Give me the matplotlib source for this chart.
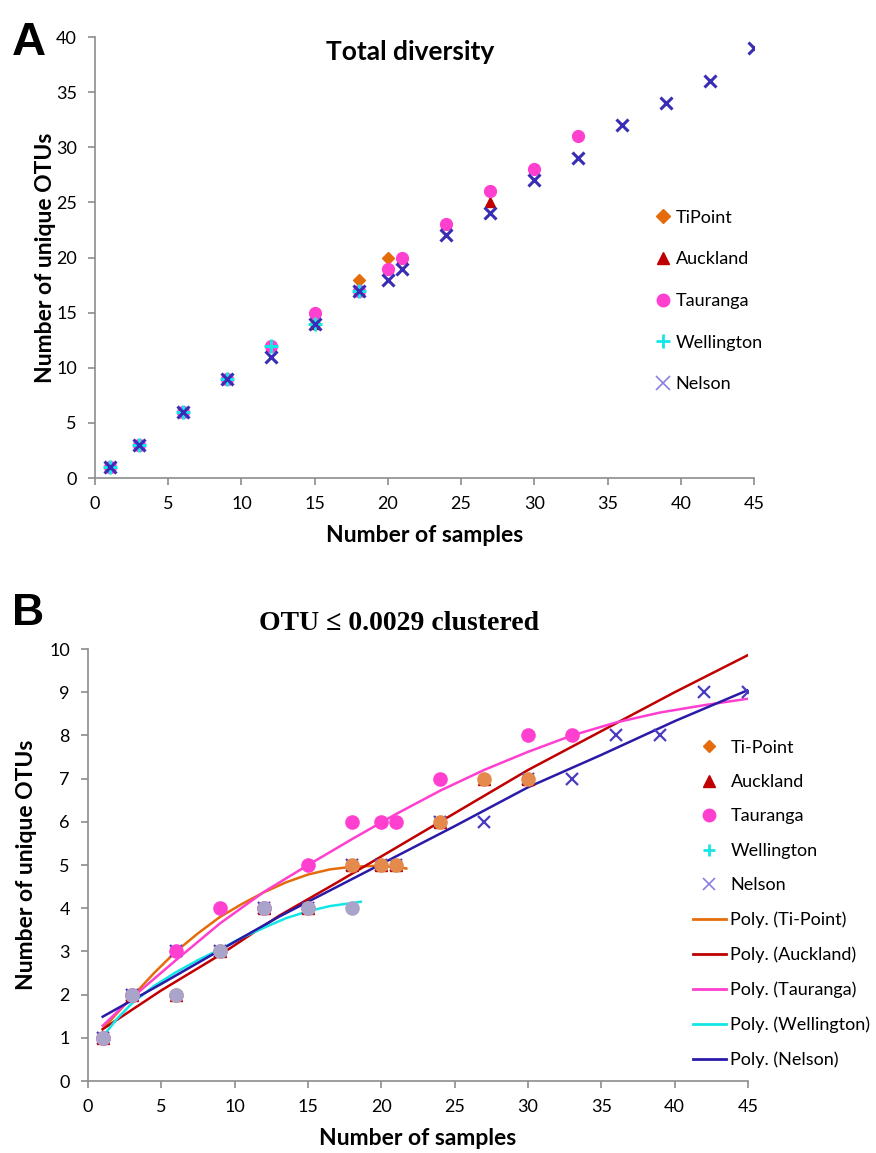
import matplotlib

matplotlib.use("Agg")
import matplotlib.pyplot as plt
from matplotlib.lines import Line2D

plt.rcParams["font.family"] = ["Lato", "DejaVu Sans"]

# ---- Panel A: total diversity ----
a_tipoint_x = [1, 3, 6, 9, 12, 15, 18, 20]
a_tipoint_y = [1, 3, 6, 9, 12, 14, 18, 20]
a_auckland_x = [1, 3, 6, 9, 12, 15, 18, 21, 24, 27]
a_auckland_y = [1, 3, 6, 9, 12, 14, 17, 20, 23, 25]
a_tauranga_x = [1, 3, 6, 9, 12, 15, 18, 20, 21, 24, 27, 30, 33]
a_tauranga_y = [1, 3, 6, 9, 12, 15, 17, 19, 20, 23, 26, 28, 31]
a_wellington_x = [1, 3, 6, 9, 12, 15, 18]
a_wellington_y = [1, 3, 6, 9, 12, 14, 17]
a_nelson_x = [1, 3, 6, 9, 12, 15, 18, 20, 21, 24, 27, 30, 33, 36, 39, 42, 45]
a_nelson_y = [1, 3, 6, 9, 11, 14, 17, 18, 19, 22, 24, 27, 29, 32, 34, 36, 39]

# ---- Panel B: OTU <= 0.0029 clustered ----
b_tipoint_x = [1, 3, 6, 9, 12, 15, 18, 20, 21, 24, 27, 30]
b_tipoint_y = [1, 2, 2, 3, 4, 4, 5, 5, 5, 6, 7, 7]
b_auckland_x = [1, 3, 6, 9, 12, 15, 18, 20, 21, 24, 27, 30]
b_auckland_y = [1, 2, 2, 3, 4, 4, 5, 5, 5, 6, 7, 7]
b_tauranga_x = [1, 3, 6, 9, 12, 15, 18, 20, 21, 24, 30, 33]
b_tauranga_y = [1, 2, 3, 4, 4, 5, 6, 6, 6, 7, 8, 8]
b_wellington_x = [1, 3, 6, 9, 12, 15, 18]
b_wellington_y = [1, 2, 2, 3, 4, 4, 4]
b_nelson_x = [1, 3, 6, 9, 12, 15, 18, 20, 21, 24, 27, 30, 33, 36, 39, 42, 45]
b_nelson_y = [1, 2, 3, 3, 4, 4, 5, 5, 5, 6, 6, 7, 7, 8, 8, 9, 9]

# polynomial trend lines
trend_tipoint_x = [1, 2, 3, 4.5, 6, 7.5, 9, 10.5, 12, 13.5, 15, 16.5, 18, 19.5, 21, 21.7]
trend_tipoint_y = [1.2, 1.58, 1.95, 2.5, 3.0, 3.42, 3.8, 4.1, 4.37, 4.6, 4.78, 4.9, 4.96, 4.98, 4.95, 4.92]
trend_auckland_x = [1, 5, 9, 13, 17, 21, 25, 30, 35, 40, 45]
trend_auckland_y = [1.2, 2.1, 2.92, 3.82, 4.6, 5.4, 6.2, 7.2, 8.1, 9.0, 9.86]
trend_tauranga_x = [1, 3, 6, 9, 12, 15, 18, 21, 24, 27, 30, 33, 36, 39, 42, 45]
trend_tauranga_y = [1.28, 1.93, 2.8, 3.65, 4.38, 5.0, 5.6, 6.18, 6.72, 7.2, 7.62, 8.0, 8.3, 8.53, 8.7, 8.85]
trend_wellington_x = [1, 2, 3, 4.5, 6, 7.5, 9, 10.5, 12, 13.5, 15, 16.5, 18.6]
trend_wellington_y = [1.03, 1.45, 1.8, 2.2, 2.52, 2.8, 3.05, 3.32, 3.55, 3.77, 3.93, 4.05, 4.15]
trend_nelson_x = [1, 5, 9, 13, 17, 21, 25, 30, 35, 40, 45]
trend_nelson_y = [1.49, 2.25, 3.03, 3.8, 4.5, 5.2, 5.9, 6.8, 7.55, 8.33, 9.05]

ORANGE = "#e46c0a"
RED = "#c00000"
PINK = "#ff3fcf"
CYAN = "#14e6e6"
NELSON = "#3a2db5"
NELSON_LEG = "#8a80e0"
NELSON_LINE = "#2a1aa8"
GRAY = "#a9a4c9"
AXIS_GRAY = "#8c8c8c"


def style_axes(ax, ymax, ystep, ylabelpad):
    for side in ("top", "right"):
        ax.spines[side].set_visible(False)
    for side in ("left", "bottom"):
        ax.spines[side].set_color(AXIS_GRAY)
        ax.spines[side].set_linewidth(1.2)
    ax.set_xlim(0, 45)
    ax.set_ylim(0, ymax)
    ax.set_xticks(range(0, 46, 5))
    ax.set_yticks(range(0, ymax + 1, ystep))
    ax.tick_params(direction="out", length=5, width=1.2, color=AXIS_GRAY, labelsize=13, pad=8)
    ax.set_xlabel("Number of samples", fontsize=16.5, fontweight="bold", labelpad=9)
    ax.set_ylabel("Number of unique OTUs", fontsize=16.5, fontweight="bold", labelpad=ylabelpad)


fig = plt.figure(figsize=(8.76, 11.53), dpi=100)

# ---------- A ----------
axA = fig.add_axes([0.1084, 0.5854, 0.7523, 0.3825])
axA.plot(a_tipoint_x, a_tipoint_y, "D", color=ORANGE, ms=6.5, ls="none", zorder=3)
axA.plot(a_auckland_x, a_auckland_y, "^", color=RED, ms=7.5, ls="none", zorder=3)
axA.plot(a_tauranga_x, a_tauranga_y, "o", color=PINK, ms=8.5, ls="none", zorder=3)
axA.plot(a_wellington_x, a_wellington_y, "+", color=CYAN, ms=10, mew=2.2, ls="none", zorder=3)
axA.plot(a_nelson_x, a_nelson_y, "x", color=NELSON, ms=8.5, mew=2.2, ls="none", zorder=3)
style_axes(axA, 40, 5, ylabelpad=0)
fig.text(410 / 876, 1 - 52 / 1153, "Total diversity", ha="center", va="center",
         fontsize=19, fontweight="bold")

handlesA = [
    Line2D([], [], ls="none", marker="D", color=ORANGE, ms=7),
    Line2D([], [], ls="none", marker="^", color=RED, ms=9),
    Line2D([], [], ls="none", marker="o", color=PINK, ms=9),
    Line2D([], [], ls="none", marker="+", color=CYAN, ms=10, mew=2),
    Line2D([], [], ls="none", marker="x", color=NELSON_LEG, ms=10, mew=1.2),
]
axA.legend(handlesA, ["TiPoint", "Auckland", "Tauranga", "Wellington", "Nelson"],
           loc="upper left", bbox_to_anchor=(0.84, 0.625), frameon=False, fontsize=13,
           handlelength=0.8, handletextpad=0.3, labelspacing=1.42, borderaxespad=0)

# ---------- B ----------
axB = fig.add_axes([0.1005, 0.0624, 0.7534, 0.3747])
axB.plot(trend_tipoint_x, trend_tipoint_y, color=ORANGE, lw=1.8, zorder=2)
axB.plot(trend_auckland_x, trend_auckland_y, color=RED, lw=1.8, zorder=2)
axB.plot(trend_tauranga_x, trend_tauranga_y, color=PINK, lw=1.8, zorder=2)
axB.plot(trend_wellington_x, trend_wellington_y, color=CYAN, lw=1.8, zorder=2)
axB.plot(trend_nelson_x, trend_nelson_y, color=NELSON_LINE, lw=1.8, zorder=2)
axB.plot(b_nelson_x, b_nelson_y, "x", color="#4a3cc0", ms=9, mew=1.6, ls="none", zorder=3)
axB.plot(b_auckland_x, b_auckland_y, "^", color=RED, ms=8, ls="none", zorder=3)
axB.plot(b_tipoint_x, b_tipoint_y, "o", color="#e38a4c", ms=9.5, ls="none", zorder=3)
axB.plot(b_tauranga_x, b_tauranga_y, "o", color=PINK, ms=9.5, ls="none", zorder=3)
axB.plot(b_wellington_x, b_wellington_y, "o", color=GRAY, ms=9.5, ls="none", zorder=3)
style_axes(axB, 10, 1, ylabelpad=9)
fig.text(399 / 876, 1 - 623 / 1153, "OTU \u2264 0.0029 clustered", ha="center", va="center",
         fontsize=20, fontweight="bold", family="Liberation Serif")

handlesB = [
    Line2D([], [], ls="none", marker="D", color=ORANGE, ms=6.5),
    Line2D([], [], ls="none", marker="^", color=RED, ms=8),
    Line2D([], [], ls="none", marker="o", color=PINK, ms=9),
    Line2D([], [], ls="none", marker="+", color=CYAN, ms=9, mew=2),
    Line2D([], [], ls="none", marker="x", color=NELSON_LEG, ms=9, mew=1.2),
    Line2D([], [], color=ORANGE, lw=2),
    Line2D([], [], color=RED, lw=2),
    Line2D([], [], color=PINK, lw=2),
    Line2D([], [], color=CYAN, lw=2),
    Line2D([], [], color=NELSON_LINE, lw=2),
]
labelsB = ["Ti-Point", "Auckland", "Tauranga", "Wellington", "Nelson",
           "Poly. (Ti-Point)", "Poly. (Auckland)", "Poly. (Tauranga)",
           "Poly. (Wellington)", "Poly. (Nelson)"]
axB.legend(handlesB, labelsB, loc="upper left", bbox_to_anchor=(0.905, 0.807), frameon=False,
           fontsize=13, handlelength=1.85, handletextpad=0.25, labelspacing=1.02, borderaxespad=0)

# panel letters
fig.text(0.014, 0.963, "A", fontsize=34, fontweight="bold", family="Liberation Sans", va="center")
fig.text(0.014, 0.468, "B", fontsize=32, fontweight="bold", family="Liberation Sans", va="center")

fig.savefig("out.png", dpi=100)
